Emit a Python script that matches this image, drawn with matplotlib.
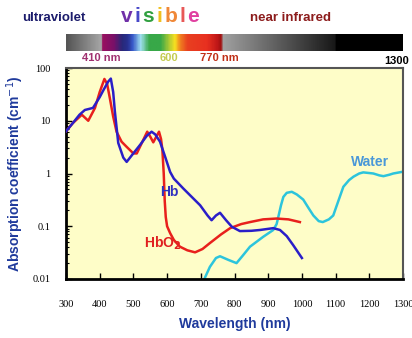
import matplotlib

matplotlib.use("Agg")
import matplotlib.pyplot as plt
import numpy as np
from matplotlib.colors import LinearSegmentedColormap
from matplotlib.ticker import FixedLocator, LogLocator, NullFormatter

# absorption spectra (nm, cm^-1)
hb_nm = [300, 320, 340, 356, 380, 400, 411, 425, 433, 440, 445, 455, 470, 480, 495,
         520, 540, 554, 565, 579, 595, 609, 620, 648, 675, 698, 720, 732, 745, 757,
         775, 792, 816, 850, 876, 915, 935, 955, 974, 1000]
hb_val = [6.3, 9.0, 13.0, 16.0, 17.5, 28.0, 38.0, 55.0, 63.0, 35.0, 15.0, 3.8, 2.0, 1.66, 2.2,
          3.5, 5.2, 6.2, 5.5, 4.0, 2.0, 1.07, 0.8, 0.52, 0.35, 0.25, 0.16, 0.13, 0.16, 0.18,
          0.13, 0.098, 0.081, 0.082, 0.085, 0.092, 0.085, 0.065, 0.044, 0.025]

hbo2_nm = [300, 320, 347, 366, 386, 400, 414, 422, 430, 440, 450, 465, 480, 500, 510,
           525, 541, 550, 559, 568, 576, 582, 586, 590, 593, 596, 600, 609, 620, 638,
           660, 683, 705, 727, 760, 787, 820, 846, 885, 925, 960, 994]
hbo2_val = [6.3, 9.0, 13.0, 10.0, 17.5, 35.0, 62.0, 50.0, 27.0, 12.0, 6.2, 4.0, 3.2, 2.4, 2.4,
            3.8, 6.2, 5.0, 3.9, 5.0, 6.2, 4.5, 2.8, 1.0, 0.3, 0.15, 0.1, 0.074, 0.055, 0.041,
            0.035, 0.032, 0.037, 0.048, 0.07, 0.092, 0.11, 0.12, 0.135, 0.14, 0.135, 0.12]

water_nm = [708, 712, 727, 745, 757, 782, 806, 825, 846, 885, 915, 925, 930, 938, 945,
            955, 970, 985, 1004, 1020, 1034, 1050, 1062, 1080, 1093, 1108, 1123, 1140, 1153,
            1170, 1182, 1200, 1212, 1230, 1242, 1260, 1271, 1296, 1300]
water_val = [0.009, 0.0105, 0.017, 0.025, 0.027, 0.023, 0.020, 0.028, 0.041, 0.063, 0.085, 0.11,
             0.15, 0.25, 0.36, 0.43, 0.45, 0.40, 0.32, 0.22, 0.16, 0.125, 0.12, 0.135, 0.16,
             0.3, 0.56, 0.75, 0.87, 1.0, 1.05, 1.02, 1.0, 0.92, 0.89, 0.95, 1.0, 1.07, 1.08]

x_ticks = [300, 400, 500, 600, 700, 800, 900, 1000, 1100, 1200, 1300]
y_ticks = [0.01, 0.1, 1, 10, 100]
y_tick_labels = ["0.01", "0.1", "1", "10", "100"]

# colour stops of the spectrum strip (nm, colour)
strip_nm = [300, 405, 406, 440, 465, 482, 496, 520, 545, 580, 609, 623, 638, 660, 718,
            748, 760, 766, 1100, 1101, 1300]
strip_col = ["#555555", "#a8a8a8", "#9a1060", "#7a1068", "#282878", "#283090", "#3858c8",
             "#a0e0f0", "#38a848", "#38a848", "#c0d030", "#f8e020", "#f08020", "#e84020",
             "#e83020", "#c01818", "#a01010", "#a0a0a0", "#181818", "#000000", "#000000"]

FIG_W, FIG_H = 412, 338


def fx(px):
    return px / FIG_W


def fy(py):
    return 1 - py / FIG_H


fig = plt.figure(figsize=(FIG_W / 100, FIG_H / 100), dpi=100)
fig.patch.set_facecolor("white")

ax = fig.add_axes([fx(66), fy(279), fx(403) - fx(66), fy(68) - fy(279)])
ax.set_facecolor("#fefdc8")
ax.set_yscale("log")
ax.set_xlim(300, 1300)
ax.set_ylim(0.01, 100)

ax.plot(water_nm, water_val, color="#2cc4dc", lw=1.8, zorder=2)
ax.plot(hbo2_nm, hbo2_val, color="#e8201c", lw=1.8, zorder=3)
ax.plot(hb_nm, hb_val, color="#2a1ec8", lw=1.8, zorder=4)

tick_font = dict(family=["Liberation Serif", "DejaVu Serif"], size=7.5)
ax.xaxis.set_major_locator(FixedLocator(x_ticks))
ax.set_xticklabels([str(t) for t in x_ticks], **tick_font)
ax.yaxis.set_major_locator(FixedLocator(y_ticks))
ax.set_yticklabels(y_tick_labels, **tick_font)
ax.yaxis.set_minor_locator(LogLocator(base=10, subs=np.arange(2, 10)))
ax.yaxis.set_minor_formatter(NullFormatter())
ax.tick_params(axis="x", direction="in", length=4, width=1, pad=15, colors="black")
ax.tick_params(axis="y", which="major", direction="in", length=4, width=1, pad=11)
ax.tick_params(axis="y", which="minor", direction="in", length=2, width=0.8)

for side in ["bottom", "left"]:
    ax.spines[side].set_linewidth(2)
    ax.spines[side].set_color("black")
for side in ["top", "right"]:
    ax.spines[side].set_linewidth(1.5)
    ax.spines[side].set_color("#555555")

label_font = dict(family=["Liberation Sans", "DejaVu Sans"], weight="bold", color="#1f3a9c")
ax.set_xlabel("Wavelength (nm)", fontsize=10, labelpad=6, **label_font)
ax.set_ylabel("Absorption coefficient (cm$^{-1}$)", fontsize=10, labelpad=5, **label_font)

inline = dict(family=["Liberation Sans", "DejaVu Sans"], weight="bold", fontsize=10)
fig.text(fx(160), fy(192), "Hb", color="#3030c0", va="center", **inline)
fig.text(fx(144), fy(243), "HbO$_\\mathbf{2}$", color="#e02020", va="center", **inline)
fig.text(fx(351), fy(162), "Water", color="#4a98d8", va="center", **inline)

# spectrum strip on top
bar = fig.add_axes([fx(66), fy(51), fx(403) - fx(66), fy(34) - fy(51)])
pos = [(n - strip_nm[0]) / (strip_nm[-1] - strip_nm[0]) for n in strip_nm]
cmap = LinearSegmentedColormap.from_list("strip", list(zip(pos, strip_col)))
bar.imshow(np.linspace(0, 1, 600)[None, :], cmap=cmap, aspect="auto",
           extent=[300, 1300, 0, 1])
bar.set_xlim(300, 1300)
bar.axis("off")

head = dict(family=["Liberation Sans", "DejaVu Sans"], weight="bold", va="center")
fig.text(fx(22), fy(18), "ultraviolet", color="#1c1c6c", fontsize=9.5, **head)
fig.text(fx(250), fy(18), "near infrared", color="#8c1c1c", fontsize=9.5, **head)

# "visible" with one colour per letter
renderer = fig.canvas.get_renderer()
x = fx(121)
for letter, col in zip("visible", ["#7030a8", "#4848c8", "#30a040", "#f0c020",
                                   "#f08838", "#e85858", "#e040a0"]):
    t = fig.text(x, fy(16), letter, color=col, fontsize=15, **head)
    x += t.get_window_extent(renderer).width / FIG_W + 0.005

small = dict(family=["Liberation Sans", "DejaVu Sans"], weight="bold", fontsize=8, va="center")
fig.text(fx(82), fy(58), "410 nm", color="#a03070", **small)
fig.text(fx(160), fy(58), "600", color="#c4cc50", **small)
fig.text(fx(200), fy(58), "770 nm", color="#c03018", **small)
fig.text(fx(384), fy(61), "1300", color="black", **small)

fig.savefig("out.png", dpi=100)
